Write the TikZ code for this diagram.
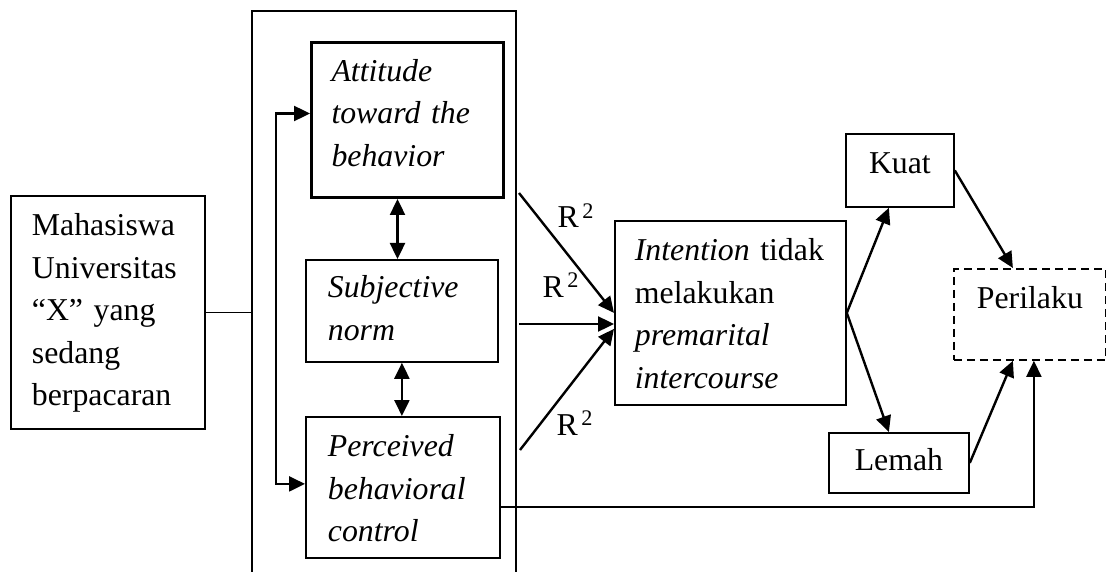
\documentclass[tikz,border=0pt]{standalone}
\usepackage{fontspec}
\setmainfont{Liberation Serif}
\usetikzlibrary{arrows.meta}

\begin{document}
\begin{tikzpicture}[x=1pt,y=-1pt,>={Triangle[length=16pt,width=15pt]},
    line width=2.4pt,
    every node/.style={font=\fontsize{31.8}{42.5}\selectfont},
    main box/.style={draw,line width=1.8pt,anchor=north west,inner sep=0pt,align=left},
    small box/.style={draw,line width=1.8pt,anchor=north west,inner sep=0pt}]
    \useasboundingbox (0,0) rectangle (1106,572);
    % group frame, open at the bottom
    \draw[line width=1.8pt] (252,572) |- (516,11) -- (516,572);
    \coordinate (grpw) at (252,0);
    \node[main box,minimum width=194pt,text width=152pt,text height=40pt,text depth=193pt]
      (mhs) at (10,195) {Mahasiswa\\Universitas\\“X” yang\\sedang\\berpacaran};
    \node[main box,line width=3pt,minimum width=192pt,text width=152pt,text height=39pt,text depth=116pt]
      (att) at (310,41) {\itshape Attitude\\\itshape toward the\\\itshape behavior};
    \node[main box,minimum width=192pt,text width=148pt,text height=38pt,text depth=64pt]
      (sub) at (305,259) {\itshape Subjective\\\itshape norm};
    \node[main box,minimum width=194pt,text width=150pt,text height=40pt,text depth=101pt]
      (per) at (305,416) {\itshape Perceived\\\itshape behavioral\\\itshape control};
    \node[main box,minimum width=231pt,text width=191pt,text height=40pt,text depth=144pt]
      (int) at (614,220) {\textit{Intention} tidak\\melakukan\\\textit{premarital}\\\textit{intercourse}};
    \node[small box,minimum width=108pt,text height=40pt,text depth=33pt] (kuat) at (845,133) {Kuat};
    \node[small box,minimum width=140pt,text height=38pt,text depth=22pt] (lem) at (828,432) {Lemah};
    \node[small box,dash pattern=on 8pt off 5pt,minimum width=152pt,text height=40pt,text depth=51pt]
      (pri) at (953,268) {Perilaku};
    \node[anchor=base west] (r2a) at (553,228) {R\textsuperscript{\,2}};
    \node[anchor=base west] (r2b) at (538,297) {R\textsuperscript{\,2}};
    \node[anchor=base west] (r2c) at (552,435) {R\textsuperscript{\,2}};
    \coordinate (ra) at (519,193);
    \coordinate (rb) at (519,324);
    \coordinate (rc) at (520,450);
    \coordinate (fb) at (276,300);
    \draw[line width=1.8pt] (mhs.east) -- (mhs.east -| grpw);
    \draw[<->] ([yshift=6.5pt]att.west) -| (fb) |- ([yshift=3.5pt]per.west);
    \draw[<->] ([xshift=-10pt]att.south) -- ([xshift=-10pt]att.south |- sub.north);
    \draw[<->] (sub.south) -- (sub.south |- per.north);
    \draw[->] (ra) -- (int.west);
    \draw[->] (rb) -- (rb -| int.west);
    \draw[->] (rc) -- ([yshift=-16pt]int.west);
    \draw[->] (int.east) -- ([xshift=-11pt]kuat.south);
    \draw[->] (int.east) -- ([xshift=-10pt]lem.north);
    \draw[->] (kuat.east) -- ([xshift=-17pt]pri.north);
    \draw[->] (lem.east) -- ([xshift=-17pt]pri.south);
    \draw[->,line width=2pt] ([yshift=-19.5pt]per.east) -| ([xshift=4pt]pri.south);
\end{tikzpicture}
\end{document}
